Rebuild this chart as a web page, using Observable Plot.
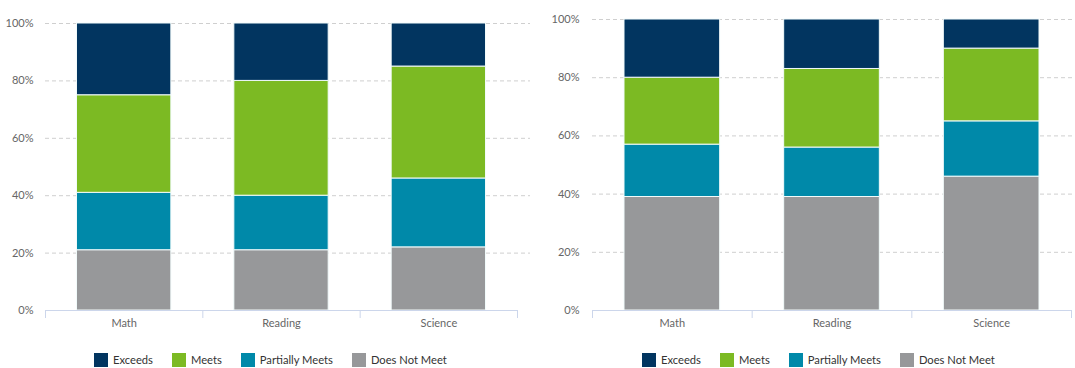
<!DOCTYPE html>
<html><head><meta charset="utf-8">
<script src="https://cdn.jsdelivr.net/npm/d3@7"></script>
<script src="https://cdn.jsdelivr.net/npm/@observablehq/plot@0.6"></script>
<style>
body{margin:0;background:#fff;font-family:Lato,"Open Sans",sans-serif;}
#wrap{position:relative;width:1075px;height:368px;overflow:hidden;background:#fff}
.panel{position:absolute;top:0}
.legend{position:absolute;top:353px;display:flex;align-items:center;font-size:11.2px;color:#333;white-space:nowrap;line-height:14px}
.item{display:flex;align-items:center;margin-right:19px}
.sw{width:14px;height:14px;margin-right:5px}
</style></head><body><div id="wrap"></div>
<script>
const subjects = ["Math", "Reading", "Science"];
const levels = ["Does Not Meet", "Partially Meets", "Meets", "Exceeds"];
const legendOrder = ["Exceeds", "Meets", "Partially Meets", "Does Not Meet"];
const levelColors = ["#97989a", "#0089a9", "#7cba23", "#023560"];
const yTicks = [0, 20, 40, 60, 80, 100];

// Left panel values (%)
const leftDoesNotMeet = [21, 21, 22];
const leftPartiallyMeets = [20, 19, 24];
const leftMeets = [34, 40, 39];
const leftExceeds = [25, 20, 15];

// Right panel values (%)
const rightDoesNotMeet = [39, 39, 46];
const rightPartiallyMeets = [18, 17, 19];
const rightMeets = [23, 27, 25];
const rightExceeds = [20, 17, 10];

function makeRows(series) {
  const rows = [];
  subjects.forEach((s, i) => {
    let acc = 0;
    levels.forEach((l, k) => {
      const v = series[k][i];
      rows.push({subject: s, i, level: l, y1: acc, y2: acc + v});
      acc += v;
    });
  });
  return rows;
}

function chart(series, o) {
  const rows = makeRows(series);
  return Plot.plot({
    width: o.width, height: 340,
    marginLeft: o.ml, marginRight: o.mr, marginTop: o.mt, marginBottom: 30,
    x: {type: "linear", domain: [0, 3]},
    y: {domain: [0, 100]},
    color: {domain: levels, range: levelColors},
    style: {fontFamily: "Lato, 'Open Sans', sans-serif", fontSize: "11px", color: "#666", background: "#fff"},
    marks: [
      Plot.ruleY(yTicks.filter(d => d > 0), {stroke: "#cfcfcf", strokeDasharray: "4,3", insetRight: -o.gridExtra}),
      Plot.rectY(rows, {x1: d => d.i, x2: d => d.i + 1, y1: "y1", y2: "y2", fill: "level",
        stroke: "#f2fbfb", strokeWidth: 1, insetLeft: o.inset, insetRight: o.inset}),
      Plot.ruleY([0], {stroke: "#ccd6eb"}),
      Plot.axisY({ticks: yTicks, tickSize: 0, tickPadding: o.tp, tickFormat: d => d + "%", fill: "#666"}),
      Plot.axisX({ticks: [0, 1, 2, 3], tickSize: 8, tickFormat: () => "", stroke: "#ccd6eb"}),
      Plot.axisX({ticks: [0.5, 1.5, 2.5], tickSize: 0, tickPadding: 9, tickFormat: d => subjects[Math.floor(d)], fill: "#666"})
    ]
  });
}

function legend(left) {
  const div = document.createElement("div");
  div.className = "legend";
  div.style.left = left + "px";
  legendOrder.forEach(l => {
    const it = document.createElement("div");
    it.className = "item";
    const sw = document.createElement("div");
    sw.className = "sw";
    sw.style.background = levelColors[levels.indexOf(l)];
    const t = document.createElement("span");
    t.textContent = l;
    it.appendChild(sw); it.appendChild(t);
    div.appendChild(it);
  });
  return div;
}

const wrap = document.getElementById("wrap");

const p1 = document.createElement("div");
p1.className = "panel"; p1.style.left = "0px";
p1.appendChild(chart([leftDoesNotMeet, leftPartiallyMeets, leftMeets, leftExceeds],
  {width: 540, ml: 45, mr: 23, mt: 23, tp: 12, inset: 31.5, gridExtra: 13}));
wrap.appendChild(p1);
wrap.appendChild(legend(94));

const p2 = document.createElement("div");
p2.className = "panel"; p2.style.left = "540px";
p2.appendChild(chart([rightDoesNotMeet, rightPartiallyMeets, rightMeets, rightExceeds],
  {width: 535, ml: 52, mr: 4, mt: 19, tp: 13, inset: 32, gridExtra: 4}));
wrap.appendChild(p2);
wrap.appendChild(legend(642));
</script>
</body></html>
